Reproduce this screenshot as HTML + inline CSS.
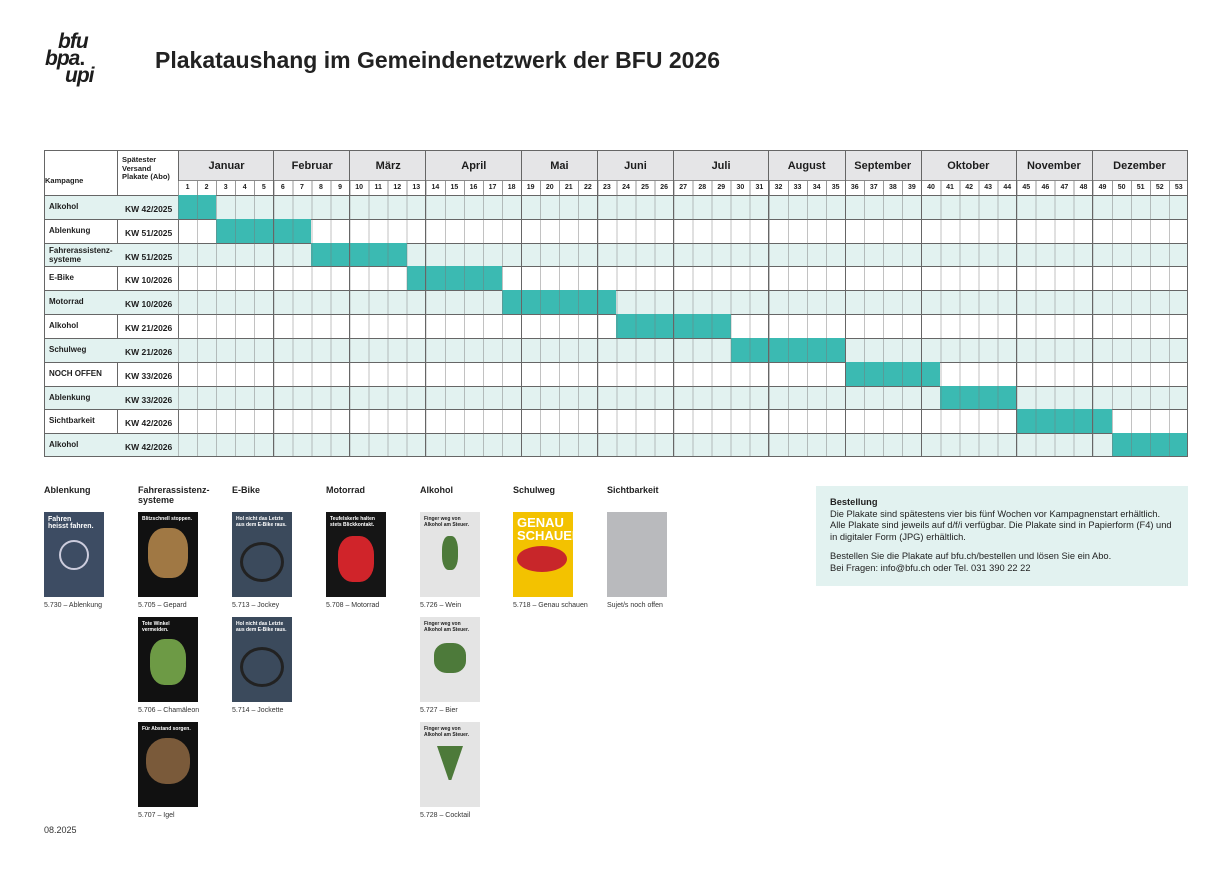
<!DOCTYPE html>
<html><head><meta charset="utf-8"><style>
*{margin:0;padding:0;box-sizing:border-box}
body{width:1230px;height:869px;background:#fff;position:relative;font-family:"Liberation Sans",sans-serif;color:#1d1d1d;overflow:hidden}
.a{position:absolute}
.logo{font-weight:bold;font-style:italic;font-size:21px;line-height:16px;letter-spacing:-1px}
.title{left:155px;top:47px;font-size:23px;font-weight:bold;color:#222}
.hdr{left:44px;top:150px;width:1144px;height:45px;border:1px solid #666;border-bottom:none}
.flex{display:flex}
.flex span{flex:1;text-align:center}
.row{width:1142px;height:23.82px;border-top:1px solid #666}
.lbl{font-size:8px;font-weight:bold;position:absolute;left:4px;top:6px}
.kw{font-size:8.5px;font-weight:bold;position:absolute;left:80px;top:8px}
.bar{position:absolute;background:#3bbab2;height:23.82px}
.cap{font-size:7px;color:#333}
.h{font-size:9px;font-weight:bold;color:#222}
.p{position:absolute;width:60px;height:85px;overflow:hidden;font-size:5px;font-weight:bold;color:#fff;padding:4px}
</style></head><body>
<div class="a logo" style="left:58px;top:34px">bfu</div>
<div class="a logo" style="left:45px;top:51px">bpa<span style="font-style:normal">.</span></div>
<div class="a logo" style="left:65px;top:68px">upi</div>
<div class="a title">Plakataushang im Gemeindenetzwerk der BFU 2026</div>

<div class="a hdr"></div>
<div class="a" style="left:45px;top:176px;font-size:7.5px;font-weight:bold">Kampagne</div>
<div class="a" style="left:117px;top:150px;width:1px;height:307px;background:#666"></div>
<div class="a" style="left:178px;top:150px;width:1px;height:307px;background:#666"></div>
<div class="a" style="left:122px;top:156px;font-size:7.5px;font-weight:bold;line-height:8.5px">Spätester<br>Versand<br>Plakate (Abo)</div>
<div class="a flex" style="left:179px;top:151px;width:1008px;height:30px;background:#e5e5e7;font-size:11px;font-weight:bold;line-height:30px;border-bottom:1px solid #888">
<span style="flex:5">Januar</span><span style="flex:4">Februar</span><span style="flex:4">März</span><span style="flex:5">April</span><span style="flex:4">Mai</span><span style="flex:4">Juni</span><span style="flex:5">Juli</span><span style="flex:4">August</span><span style="flex:4">September</span><span style="flex:5">Oktober</span><span style="flex:4">November</span><span style="flex:5">Dezember</span></div>
<div class="a flex" style="left:178px;top:181px;width:1010px;height:14px;font-size:7px;font-weight:bold;line-height:14px;background:repeating-linear-gradient(to right,#999 0 1px,transparent 1px 19.057px)">
<span>1</span><span>2</span><span>3</span><span>4</span><span>5</span><span>6</span><span>7</span><span>8</span><span>9</span><span>10</span><span>11</span><span>12</span><span>13</span><span>14</span><span>15</span><span>16</span><span>17</span><span>18</span><span>19</span><span>20</span><span>21</span><span>22</span><span>23</span><span>24</span><span>25</span><span>26</span><span>27</span><span>28</span><span>29</span><span>30</span><span>31</span><span>32</span><span>33</span><span>34</span><span>35</span><span>36</span><span>37</span><span>38</span><span>39</span><span>40</span><span>41</span><span>42</span><span>43</span><span>44</span><span>45</span><span>46</span><span>47</span><span>48</span><span>49</span><span>50</span><span>51</span><span>52</span><span>53</span></div>

<div class="a" style="left:44px;top:195px;width:1144px;height:262px;border:1px solid #666;border-top:none;overflow:hidden">
<div class="a row" style="left:0;top:0;background:#e2f2f0"><span class="lbl">Alkohol</span><span class="kw">KW 42/2025</span><div class="bar" style="left:133px;width:38.1px;top:-1px"></div></div>
<div class="a row" style="left:0;top:23.82px"><span class="lbl">Ablenkung</span><span class="kw">KW 51/2025</span><div class="bar" style="left:171.1px;width:95.3px;top:-1px"></div></div>
<div class="a row" style="left:0;top:47.64px;background:#e2f2f0"><span class="lbl" style="top:2px;line-height:9px">Fahrerassistenz-<br>systeme</span><span class="kw">KW 51/2025</span><div class="bar" style="left:266.4px;width:95.3px;top:-1px"></div></div>
<div class="a row" style="left:0;top:71.46px"><span class="lbl">E-Bike</span><span class="kw">KW 10/2026</span><div class="bar" style="left:361.7px;width:95.3px;top:-1px"></div></div>
<div class="a row" style="left:0;top:95.28px;background:#e2f2f0"><span class="lbl">Motorrad</span><span class="kw">KW 10/2026</span><div class="bar" style="left:457px;width:114.3px;top:-1px"></div></div>
<div class="a row" style="left:0;top:119.1px"><span class="lbl">Alkohol</span><span class="kw">KW 21/2026</span><div class="bar" style="left:571.3px;width:114.3px;top:-1px"></div></div>
<div class="a row" style="left:0;top:142.92px;background:#e2f2f0"><span class="lbl">Schulweg</span><span class="kw">KW 21/2026</span><div class="bar" style="left:685.6px;width:114.3px;top:-1px"></div></div>
<div class="a row" style="left:0;top:166.74px"><span class="lbl">NOCH OFFEN</span><span class="kw">KW 33/2026</span><div class="bar" style="left:800px;width:95.3px;top:-1px"></div></div>
<div class="a row" style="left:0;top:190.56px;background:#e2f2f0"><span class="lbl">Ablenkung</span><span class="kw">KW 33/2026</span><div class="bar" style="left:895.3px;width:76.2px;top:-1px"></div></div>
<div class="a row" style="left:0;top:214.38px"><span class="lbl">Sichtbarkeit</span><span class="kw">KW 42/2026</span><div class="bar" style="left:971.5px;width:95.3px;top:-1px"></div></div>
<div class="a row" style="left:0;top:238.2px;background:#e2f2f0"><span class="lbl">Alkohol</span><span class="kw">KW 42/2026</span><div class="bar" style="left:1066.8px;width:76.2px;top:-1px"></div></div>
</div>
<div class="a" style="left:178px;top:195px;width:1010px;height:261px;background:repeating-linear-gradient(to right,rgba(120,120,120,.45) 0 1px,transparent 1px 19.057px)"></div>
<div class="a" style="left:273px;top:150px;width:1px;height:307px;background:#666"></div>
<div class="a" style="left:349px;top:150px;width:1px;height:307px;background:#666"></div>
<div class="a" style="left:425px;top:150px;width:1px;height:307px;background:#666"></div>
<div class="a" style="left:521px;top:150px;width:1px;height:307px;background:#666"></div>
<div class="a" style="left:597px;top:150px;width:1px;height:307px;background:#666"></div>
<div class="a" style="left:673px;top:150px;width:1px;height:307px;background:#666"></div>
<div class="a" style="left:768px;top:150px;width:1px;height:307px;background:#666"></div>
<div class="a" style="left:845px;top:150px;width:1px;height:307px;background:#666"></div>
<div class="a" style="left:921px;top:150px;width:1px;height:307px;background:#666"></div>
<div class="a" style="left:1016px;top:150px;width:1px;height:307px;background:#666"></div>
<div class="a" style="left:1092px;top:150px;width:1px;height:307px;background:#666"></div>
<div class="a" style="left:1187px;top:150px;width:1px;height:307px;background:#666"></div>

<div class="a h" style="left:44px;top:485px">Ablenkung</div>
<div class="a h" style="left:138px;top:485px;line-height:10px">Fahrerassistenz-<br>systeme</div>
<div class="a h" style="left:232px;top:485px">E-Bike</div>
<div class="a h" style="left:326px;top:485px">Motorrad</div>
<div class="a h" style="left:420px;top:485px">Alkohol</div>
<div class="a h" style="left:513px;top:485px">Schulweg</div>
<div class="a h" style="left:607px;top:485px">Sichtbarkeit</div>

<div class="p" style="left:44px;top:512px;background:#3d4c63;font-size:7px">Fahren<br>heisst fahren.<div style="width:30px;height:30px;border:2px solid #ccd;border-radius:50%;margin:10px auto"></div></div>
<div class="p" style="left:138px;top:512px;background:#111">Blitzschnell stoppen.<div style="width:40px;height:50px;background:#a07844;border-radius:40%;margin:6px auto"></div></div>
<div class="p" style="left:232px;top:512px;background:#3b4a5c">Hol nicht das Letzte aus dem E-Bike raus.<div style="width:44px;height:40px;border:3px solid #222;border-radius:50%;margin:14px auto 0"></div></div>
<div class="p" style="left:326px;top:512px;background:#151515">Teufelskerle halten stets Blickkontakt.<div style="width:36px;height:46px;background:#d0242a;border-radius:40%;margin:8px auto"></div></div>
<div class="p" style="left:420px;top:512px;background:#e4e4e4;color:#222">Finger weg von Alkohol am Steuer.<div style="width:16px;height:34px;background:#4d7a3a;border-radius:40%;margin:8px auto"></div></div>
<div class="p" style="left:513px;top:512px;background:#f3c200;font-size:13px;line-height:13px">GENAU<br>SCHAUEN<div style="width:50px;height:26px;background:#c8262a;border-radius:50%;margin-top:4px"></div></div>
<div class="p" style="left:607px;top:512px;background:#b9babd"></div>
<div class="a cap" style="left:44px;top:602px">5.730 – Ablenkung</div>
<div class="a cap" style="left:138px;top:602px">5.705 – Gepard</div>
<div class="a cap" style="left:232px;top:602px">5.713 – Jockey</div>
<div class="a cap" style="left:326px;top:602px">5.708 – Motorrad</div>
<div class="a cap" style="left:420px;top:602px">5.726 – Wein</div>
<div class="a cap" style="left:513px;top:602px">5.718 – Genau schauen</div>
<div class="a cap" style="left:607px;top:602px">Sujet/s noch offen</div>

<div class="p" style="left:138px;top:617px;background:#111">Tote Winkel vermeiden.<div style="width:36px;height:46px;background:#6d9a45;border-radius:40%;margin:6px auto"></div></div>
<div class="p" style="left:232px;top:617px;background:#3b4a5c">Hol nicht das Letzte aus dem E-Bike raus.<div style="width:44px;height:40px;border:3px solid #222;border-radius:50%;margin:14px auto 0"></div></div>
<div class="p" style="left:420px;top:617px;background:#e4e4e4;color:#222">Finger weg von Alkohol am Steuer.<div style="width:32px;height:30px;background:#4d7a3a;border-radius:40%;margin:10px auto"></div></div>
<div class="a cap" style="left:138px;top:707px">5.706 – Chamäleon</div>
<div class="a cap" style="left:232px;top:707px">5.714 – Jockette</div>
<div class="a cap" style="left:420px;top:707px">5.727 – Bier</div>

<div class="p" style="left:138px;top:722px;background:#111">Für Abstand sorgen.<div style="width:44px;height:46px;background:#7a5a3a;border-radius:45%;margin:6px auto"></div></div>
<div class="p" style="left:420px;top:722px;background:#e4e4e4;color:#222">Finger weg von Alkohol am Steuer.<div style="width:26px;height:34px;background:#4d7a3a;clip-path:polygon(0 0,100% 0,55% 100%,45% 100%);margin:8px auto"></div></div>
<div class="a cap" style="left:138px;top:812px">5.707 – Igel</div>
<div class="a cap" style="left:420px;top:812px">5.728 – Cocktail</div>

<div class="a" style="left:44px;top:825px;font-size:9px;color:#333">08.2025</div>

<div class="a" style="left:816px;top:486px;width:372px;height:100px;background:#e2f2f0;padding:11px 14px;font-size:9.3px;line-height:11.6px;color:#222">
<b>Bestellung</b><br>Die Plakate sind spätestens vier bis fünf Wochen vor Kampagnenstart erhältlich. Alle Plakate sind jeweils auf d/f/i verfügbar. Die Plakate sind in Papierform (F4) und in digitaler Form (JPG) erhältlich.<div style="height:8px"></div>Bestellen Sie die Plakate auf bfu.ch/bestellen und lösen Sie ein Abo.<br>Bei Fragen: info@bfu.ch oder Tel. 031 390 22 22</div>
</body></html>
